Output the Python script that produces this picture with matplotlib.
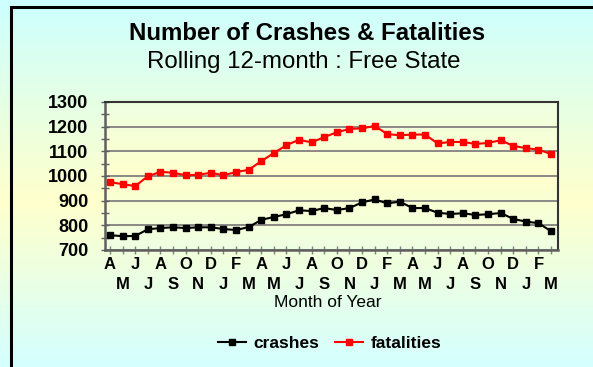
import numpy as np
import matplotlib.pyplot as plt
from matplotlib.colors import LinearSegmentedColormap
from matplotlib.lines import Line2D
from matplotlib.patches import Rectangle

# -----------------------
# Data: rolling 12-month totals, April to March over three years
# -----------------------
months = ['A', 'M', 'J', 'J', 'A', 'S', 'O', 'N', 'D', 'J', 'F', 'M'] * 3

crashes = [760, 756, 757, 784, 789, 792, 789, 792, 792, 785, 781, 793,
           822, 834, 845, 861, 858, 870, 862, 870, 893, 905, 889, 896,
           870, 870, 851, 846, 849, 842, 845, 850, 826, 815, 809, 776]

fatalities = [975, 967, 959, 999, 1017, 1013, 1003, 1005, 1013, 1003, 1016, 1025,
              1060, 1093, 1125, 1147, 1136, 1158, 1177, 1191, 1193, 1203, 1170, 1165,
              1168, 1168, 1132, 1138, 1138, 1130, 1134, 1145, 1122, 1113, 1107, 1089]

plt.rcParams['font.family'] = ['Liberation Sans', 'DejaVu Sans']

fig = plt.figure(figsize=(5.93, 3.67), dpi=100)

# -----------------------
# Background gradients
# -----------------------
bg_cmap = LinearSegmentedColormap.from_list(
    'bg', [(0.0, '#ccffff'), (0.55, '#ffffcc'), (1.0, '#d4ffff')])
bg = fig.add_axes([0, 0, 1, 1], zorder=-10)
bg.imshow(np.linspace(0, 1, 256).reshape(-1, 1), aspect='auto', cmap=bg_cmap,
          extent=[0, 1, 0, 1], origin='upper')
bg.set_xlim(0, 1)
bg.set_ylim(0, 1)
bg.axis('off')

# outer frame (runs off the right and bottom edges)
bg.add_patch(Rectangle((11 / 593, -0.1), 1.2, 1 - 7 / 367 + 0.1,
                       fill=False, edgecolor='black', linewidth=2.2,
                       transform=bg.transAxes, clip_on=False))

ax = fig.add_axes([105 / 593, 1 - 250 / 367, (558 - 105) / 593, (250 - 102) / 367])
ax.patch.set_alpha(0)

plot_cmap = LinearSegmentedColormap.from_list(
    'plotbg', [(0.0, '#eeffe2'), (0.5, '#ffffcc'), (1.0, '#eeffe2')])
x = np.arange(len(months))
ax.imshow(np.linspace(0, 1, 256).reshape(-1, 1), aspect='auto', cmap=plot_cmap,
          extent=[-0.4, 35.55, 700, 1300], origin='upper', zorder=0)

# -----------------------
# Lines
# -----------------------
ax.plot(x, crashes, color='black', linewidth=1.5, marker='s', markersize=5, zorder=3)
ax.plot(x, fatalities, color='#ff0000', linewidth=1.5, marker='s', markersize=5, zorder=3)

ax.set_xlim(-0.4, 35.55)
ax.set_ylim(700, 1300)

# -----------------------
# Axes styling
# -----------------------
ax.set_yticks(np.arange(700, 1301, 100))
ax.set_yticks(np.arange(750, 1300, 100), minor=True)
ax.yaxis.grid(True, color='#808080', linewidth=1.3, zorder=1)
ax.set_axisbelow(True)

labels = [m if i % 2 == 0 else '\n' + m for i, m in enumerate(months)]
ax.set_xticks(x)
ax.set_xticklabels(labels, fontsize=12, fontweight='bold', linespacing=1.4)
for t in ax.get_yticklabels():
    t.set_fontsize(13)
    t.set_fontweight('bold')

ax.tick_params(axis='x', direction='inout', length=6, width=1, color='#808080', pad=2)
ax.tick_params(axis='y', which='both', direction='inout', length=6, width=1,
               color='#606060', pad=9)

for side in ['left', 'bottom']:
    ax.spines[side].set_color('#606060')
    ax.spines[side].set_linewidth(1.8)
for side in ['top', 'right']:
    ax.spines[side].set_color('#333333')
    ax.spines[side].set_linewidth(1.5)

# -----------------------
# Titles and labels
# -----------------------
fig.text(0.518, 0.91, 'Number of Crashes & Fatalities', ha='center', va='center',
         fontsize=17.3, fontweight='bold')
fig.text(0.513, 0.831, 'Rolling 12-month : Free State', ha='center', va='center',
         fontsize=17.3)
fig.text(0.552, 0.177, 'Month of Year', ha='center', va='center', fontsize=12.5)

handles = [
    Line2D([], [], color='black', linewidth=1.5, marker='s', markersize=5),
    Line2D([], [], color='#ff0000', linewidth=1.5, marker='s', markersize=5),
]
fig.legend(handles, ['crashes', 'fatalities'], loc='center', bbox_to_anchor=(0.556, 0.065),
           ncol=2, frameon=False, handlelength=1.6, handletextpad=0.45,
           columnspacing=0.9, prop={'size': 12.5, 'weight': 'bold'})

fig.savefig('out.png', dpi=100)
